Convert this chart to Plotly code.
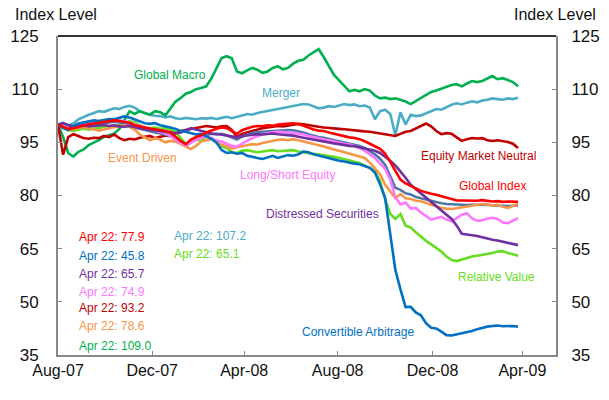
import pandas as pd
import plotly.graph_objects as go

# weekly observations, Aug 1 2007 -> Apr 22 2009
dates = pd.date_range("2007-08-01", periods=91, freq="7D")

global_macro = [
    100, 96.5, 92, 91, 92.3, 93, 94.2, 94.8, 95.6, 96.5,
    97, 97.5, 98.8, 101.5, 103.8, 103, 103.8, 103.2, 102.8, 103.8,
    103.5, 102.6, 104.6, 106.5, 107.5, 108.7, 109.2, 110, 110.3, 110.8,
    113, 116, 118.8, 119.3, 118.7, 115, 114.5, 115.3, 116, 115.5,
    114.6, 115, 116, 116.5, 115.6, 116, 117.2, 118, 118.3, 119.5,
    120.5, 121.3, 119, 116.5, 114, 112.5, 111, 109.4, 109.8, 109.4,
    110, 109.6, 108.2, 107.4, 107.6, 107.2, 107.4, 107, 106.5, 105.8,
    106.6, 107.5, 108.3, 109.2, 109.6, 110.2, 110.6, 111.2, 111.4, 110.8,
    111.6, 112.3, 112, 112.3, 113, 113.7, 112.8, 113.1, 112.6, 112, 110.8,
]
merger = [
    100, 100.5, 99.8, 100.3, 101.5, 102.2, 102.8, 103.3, 103.8, 103.6,
    104.2, 104.6, 104.4, 105, 105.3, 104.8, 103.8, 103.2, 102.8, 102.5,
    102.4, 102, 102.3, 101.8, 101.6, 101.9, 101.8, 101.5, 101.8, 101.7,
    101.9, 101.6, 101.9, 102.2, 101.8, 102.3, 102.6, 103, 102.8, 103.3,
    103.6, 103.8, 104, 104.4, 104.6, 105, 105.3, 105.6, 105.8, 105.7,
    105.2, 104.6, 104.8, 105.2, 105, 105.4, 105.8, 105.5, 105.7, 105.2,
    105.4, 104.8, 101.5, 103.8, 104.2, 103, 97, 103.5, 100, 102.8,
    102.4, 102.6, 103.2, 104, 104.4, 104.2, 105, 105.6, 106, 105.7,
    106.2, 106.6, 106.3, 106.8, 107, 107.4, 107.2, 107, 107.4, 107.2, 107.6,
]
equity_mkt_neutral = [
    100, 91.5, 96.5, 97.3, 96.8, 96.2, 96, 96.3, 96.2, 96.8,
    96.5, 97.2, 96.2, 95.6, 96, 95.8, 96.3, 96.5, 96.8, 96.2,
    96.5, 96.9, 96.8, 97.6, 98.2, 98.5, 98.8, 99.2, 99.5, 99.6,
    99.4, 99.2, 99.5, 99.6, 98.5, 96.5, 97.4, 97.8, 98.2, 98.8,
    99, 99.2, 99.4, 99.6, 99.5, 99.8, 100, 100.2, 100.1, 99.8,
    99.6, 99.4, 99.2, 99, 98.9, 98.8, 98.7, 98.5, 98.3, 98.3,
    98.1, 98, 97.8, 97.6, 97.3, 97, 96.8, 97.4, 98, 98.2,
    99, 99.6, 100.3, 99.5, 98.2, 97.3, 97.6, 97.4, 96.4, 95.4,
    95.9, 96.2, 96.1, 96.2, 95.6, 95.4, 95.6, 95.4, 95.1, 94.6, 93.4,
]
global_index = [
    100, 99.5, 98.8, 99, 99.4, 99.8, 100.1, 100.3, 100.5, 100.8,
    101, 101.2, 101, 100.8, 100.5, 99.8, 99.6, 99.2, 98.9, 98.7,
    98.4, 98.2, 97.8, 96.5, 95.4, 94.5, 95.8, 96.5, 97, 97.8,
    98.4, 98.8, 99.2, 99, 98.2, 97.4, 98.4, 99, 99.4, 99.6,
    99.5, 99.8, 99.7, 100, 100.1, 100.2, 100.4, 100.2, 99.6, 99,
    98.6, 98.3, 98.2, 97.8, 97.4, 97.1, 96.8, 96.4, 96.2, 95.9,
    95.3, 94.7, 93.9, 93.2, 91.8, 89.5, 86.8, 84.5, 83.4, 82.8,
    82, 81.3, 80.8, 80.5, 80.2, 79.8, 79.4, 79, 78.6, 78.6,
    78.5, 78.6, 78.5, 78.7, 78.4, 78.3, 78.4, 78.2, 78.3, 78.2, 78.2,
]
distressed = [
    100, 100.4, 99.8, 99.5, 99.6, 99.8, 99.5, 99.6, 99.7, 99.9,
    99.6, 99.8, 99.5, 99.4, 99.6, 99.2, 99, 98.8, 98.6, 98.5,
    98.3, 98.2, 98, 97.6, 97.8, 98.5, 99, 98.6, 98.2, 97.8,
    97.5, 97.4, 97.2, 96.9, 96.6, 96.4, 96.8, 97, 97.1, 97.3,
    97.2, 97.4, 97.5, 97.3, 97.2, 97.1, 96.9, 96.6, 96.3, 96,
    95.7, 95.5, 95.3, 95, 94.7, 94.5, 94.2, 94, 93.9, 93.6,
    93.4, 93, 92.6, 92, 91, 89.8, 88.5, 86.8, 85, 83,
    81.8, 80.6, 79.4, 78.2, 77, 75.6, 74.5, 73.4, 71.5, 69.2,
    69, 68.9, 68.6, 68.2, 67.8, 67.5, 67.3, 67, 66.7, 66.5, 66,
]
long_short = [
    100, 99.6, 99, 99.3, 99.8, 100.2, 100.5, 100.8, 101, 101.2,
    101.3, 101.5, 101.2, 101, 100.6, 100, 99.6, 99.2, 98.8, 98.4,
    98, 97.5, 96.8, 95.8, 94.8, 94.2, 95, 95.8, 96.4, 96.6,
    96.2, 95.5, 95.2, 94.6, 94, 93.8, 94.5, 95.4, 96.2, 96.8,
    97.2, 97.6, 97.8, 98, 97.9, 97.8, 97.6, 97.4, 97.2, 96.8,
    96.4, 96, 95.8, 95.6, 95.2, 94.9, 94.6, 94.4, 94, 93.5,
    92.6, 91.7, 90.6, 89, 87.5, 84.5, 79.5, 77.5, 78, 76.3,
    76.5, 75.2, 74.2, 73.2, 73.6, 74, 73.2, 72.8, 73.6, 74.6,
    75, 73.5, 72.8, 73, 73.5, 73.7, 73.4, 72.4, 72.2, 72.8, 73.6,
]
event_driven = [
    100, 99.2, 98.6, 98.8, 99, 99.3, 99, 98.6, 98.3, 98.6,
    99, 99.3, 99.5, 99.8, 99.4, 98.6, 97.2, 96.4, 95.6, 96.2,
    95.8, 95, 95.4, 95.2, 94.5, 93.6, 93.1, 94, 95.2, 95.6,
    95.9, 95, 94.4, 93.6, 93.2, 93.6, 94, 94.2, 94.5, 94.4,
    94.8, 95, 95.4, 95.7, 95.8, 95.6, 95.9, 95.6, 95.3, 95,
    94.6, 94.2, 93.8, 93.3, 93, 92.6, 92.2, 91.8, 91.5, 91.2,
    90.6, 89.3, 87.8, 86, 83, 81.2, 79.3, 80.4, 79.2, 79,
    78.5, 78.4, 77.8, 77.4, 77, 76.5, 76.3, 76.2, 76.4, 76.6,
    77, 77.2, 77.4, 77.6, 77.5, 77.2, 77.4, 76.8, 76.5, 77, 77.6,
]
equity_hedge = [
    100, 99.3, 98.6, 98.9, 99.2, 99.5, 99.8, 100, 100.2, 100.4,
    100.6, 100.8, 100.6, 100.3, 99.9, 99.2, 98.8, 98.4, 98, 97.8,
    97.5, 97.2, 96.8, 95.8, 94.8, 94, 95, 95.8, 96.4, 97,
    97.4, 97.2, 97.4, 97, 96.4, 95.8, 96.6, 97.2, 97.6, 97.9,
    98, 98.2, 98.3, 98.5, 98.6, 98.5, 98.4, 98.2, 97.8, 97.3,
    96.8, 96.5, 96.3, 96, 95.7, 95.4, 95, 94.7, 94.4, 94,
    93.4, 92.6, 91.6, 90.4, 88.6, 85.5, 82.2, 81.6, 80.6, 80.3,
    79.6, 79.2, 78.8, 78.4, 78, 77.8, 77.6, 77.5, 77.6, 77.4,
    77.3, 77.4, 77.5, 77.4, 77.3, 77.2, 77.3, 77.1, 77, 77.1, 77.2,
]
relative_value = [
    100, 99.2, 98.4, 98.2, 98.6, 98.9, 98.6, 98.8, 99, 99.2,
    99.6, 99.4, 99.8, 100.4, 101, 100.6, 99.8, 99.2, 99, 99.2,
    98.8, 99, 98.6, 98, 96.2, 94.5, 95, 95.8, 95.4, 96.8,
    96, 94.8, 93.8, 93.4, 92.2, 92, 92.6, 92.8, 92.4, 92.2,
    92.4, 92.6, 92.8, 92.5, 92.6, 92.5, 92.8, 92.4, 92.2, 92,
    91.8, 91.6, 91.5, 91.2, 90.9, 90.6, 90.2, 89.8, 89.6, 89.2,
    88.4, 87.8, 86.8, 84, 79, 74.8, 73.4, 74.8, 71.5, 71,
    69.6, 68.3, 67.2, 66.2, 65.2, 64.2, 62.8, 61.8, 61.5, 62,
    62.4, 62.8, 63, 63.2, 63.4, 63.8, 64.2, 64.3, 63.8, 63.4, 63,
]
convertible_arb = [
    100, 99, 98.5, 99.6, 100.3, 100.6, 101, 101.2, 101, 101.4,
    101.6, 101.5, 101.8, 102.3, 102, 101.5, 100.8, 100.4, 100.2, 100.4,
    99.8, 99.6, 99.2, 98.8, 98.2, 98, 97.6, 97.2, 97.4, 96.8,
    96, 95, 92.8, 92, 92.2, 91.8, 92, 91.2, 91, 90.6,
    90.3, 90.8, 91.2, 90.6, 91, 91.4, 91.2, 91.6, 92.4, 92.2,
    91.6, 91.2, 90.8, 90.6, 90.2, 89.8, 89.6, 89.2, 89, 88.8,
    88.4, 87.8, 86.5, 83.2, 79.3, 69.5, 59, 53.5, 48.5, 48.6,
    47, 46.2, 44, 42.7, 42.5, 41.6, 40.6, 40.5, 40.8, 41.1,
    41.3, 41.8, 42.3, 42.7, 43, 43.2, 43.3, 43.1, 43.2, 43.2, 43,
]

# name, values, colour (drawing order: first is at the back)
series = [
    ("Merger", merger, "#4BACC6"),
    ("Global Macro", global_macro, "#00B050"),
    ("Equity Market Neutral", equity_mkt_neutral, "#C00000"),
    ("Relative Value", relative_value, "#66DD22"),
    ("Equity Hedge", equity_hedge, "#4F77A8"),
    ("Event Driven", event_driven, "#F79646"),
    ("Long/Short Equity", long_short, "#FF77FF"),
    ("Distressed Securities", distressed, "#7030A0"),
    ("Convertible Arbitrage", convertible_arb, "#0070C0"),
    ("Global Index", global_index, "#FF0000"),
]

# end-of-period readings shown in the chart box
last_values = [
    ("Apr 22: 77.9", "#FF0000"),
    ("Apr 22: 45.8", "#0070C0"),
    ("Apr 22: 65.7", "#7030A0"),
    ("Apr 22: 74.9", "#FF77FF"),
    ("Apr 22: 93.2", "#C00000"),
    ("Apr 22: 78.6", "#F79646"),
    ("Apr 22: 109.0", "#00B050"),
]
last_values_2 = [
    ("Apr 22: 107.2", "#4BACC6"),
    ("Apr 22: 65.1", "#66DD22"),
]

tick_text = ["Aug-07", "Dec-07", "Apr-08", "Aug-08", "Dec-08", "Apr-09"]
tick_dates = ["2007-08-01", "2007-12-08", "2008-04-12", "2008-08-18", "2008-12-26", "2009-04-28"]
y_ticks = [35, 50, 65, 80, 95, 110, 125]

FONT = "Liberation Sans, Arial, sans-serif"
W, H = 609, 400
L, T = 58, 36
R, B = W - 556, H - 355


def px(x, y):
    # pixel position in the page -> paper coords
    return (x - L) / (W - L - R), (H - B - y) / (H - T - B)


fig = go.Figure()
for name, vals, color in series:
    fig.add_trace(go.Scatter(
        x=dates, y=vals, name=name, mode="lines",
        line=dict(color=color, width=2.6),
    ))
# empty trace so the right-hand axis is drawn
fig.add_trace(go.Scatter(x=[dates[0]], y=[None], yaxis="y2", showlegend=False, hoverinfo="skip"))

labels = [
    ("Global Macro", 170, 75, "#00B050"),
    ("Merger", 281, 93, "#4BACC6"),
    ("Event Driven", 142, 158, "#F79646"),
    ("Equity Market Neutral", 478, 156, "#C00000"),
    ("Global Index", 492, 186, "#FF0000"),
    ("Long/Short Equity", 287, 175, "#FF77FF"),
    ("Distressed Securities", 322, 214, "#7030A0"),
    ("Relative Value", 496, 277, "#66DD22"),
    ("Convertible Arbitrage", 358, 332, "#0070C0"),
]
annotations = []
for text, x, y, color in labels:
    ax, ay = px(x, y)
    annotations.append(dict(text=text, x=ax, y=ay, xref="paper", yref="paper",
                            xanchor="center", yanchor="middle",
                            showarrow=False, font=dict(family=FONT, size=12, color=color)))

for i, (text, color) in enumerate(last_values):
    ax, ay = px(77, [237, 256, 274, 292, 308, 326, 346][i])
    annotations.append(dict(text=text, x=ax, y=ay, xref="paper", yref="paper",
                            xanchor="left", yanchor="middle",
                            showarrow=False, font=dict(family=FONT, size=12, color=color)))
for i, (text, color) in enumerate(last_values_2):
    ax, ay = px(172, [236, 254][i])
    annotations.append(dict(text=text, x=ax, y=ay, xref="paper", yref="paper",
                            xanchor="left", yanchor="middle",
                            showarrow=False, font=dict(family=FONT, size=12, color=color)))

for x in (56, 555):
    ax, ay = px(x, 14)
    annotations.append(dict(text="Index Level", x=ax, y=ay, xref="paper", yref="paper",
                            xanchor="center", yanchor="middle",
                            showarrow=False, font=dict(family=FONT, size=16, color="#111")))

yaxis_common = dict(
    range=[35, 125], tickvals=y_ticks, ticks="inside", ticklen=4, tickcolor="#888",
    showgrid=False, zeroline=False, showline=True, linecolor="#888", linewidth=2,
    automargin=False,
    tickfont=dict(family=FONT, size=17, color="#111"),
)

fig.update_layout(
    width=W, height=H,
    margin=dict(l=L, r=R, t=T, b=B, autoexpand=False),
    paper_bgcolor="white", plot_bgcolor="white",
    showlegend=False,
    xaxis=dict(
        type="date", range=["2007-08-01", "2009-06-13"],
        tickvals=tick_dates, ticktext=tick_text,
        ticks="inside", ticklen=4, tickcolor="#888",
        showgrid=False, zeroline=False, showline=True, linecolor="#888", linewidth=2,
        automargin=False,
        tickfont=dict(family=FONT, size=16, color="#111"),
    ),
    yaxis=dict(**yaxis_common, side="left", ticklabelstandoff=14),
    yaxis2=dict(**yaxis_common, side="right", overlaying="y", ticklabelstandoff=10),
    annotations=annotations,
    shapes=[dict(type="line", xref="paper", yref="paper", x0=0, x1=1, y0=1, y1=1,
                 line=dict(color="#333", width=2))],
)

# drop the browser's default 8px body margin so the figure sits at the page corner
fig.write_html("out.html", config={"displayModeBar": False},
               post_script="document.body.style.margin = '0';")
